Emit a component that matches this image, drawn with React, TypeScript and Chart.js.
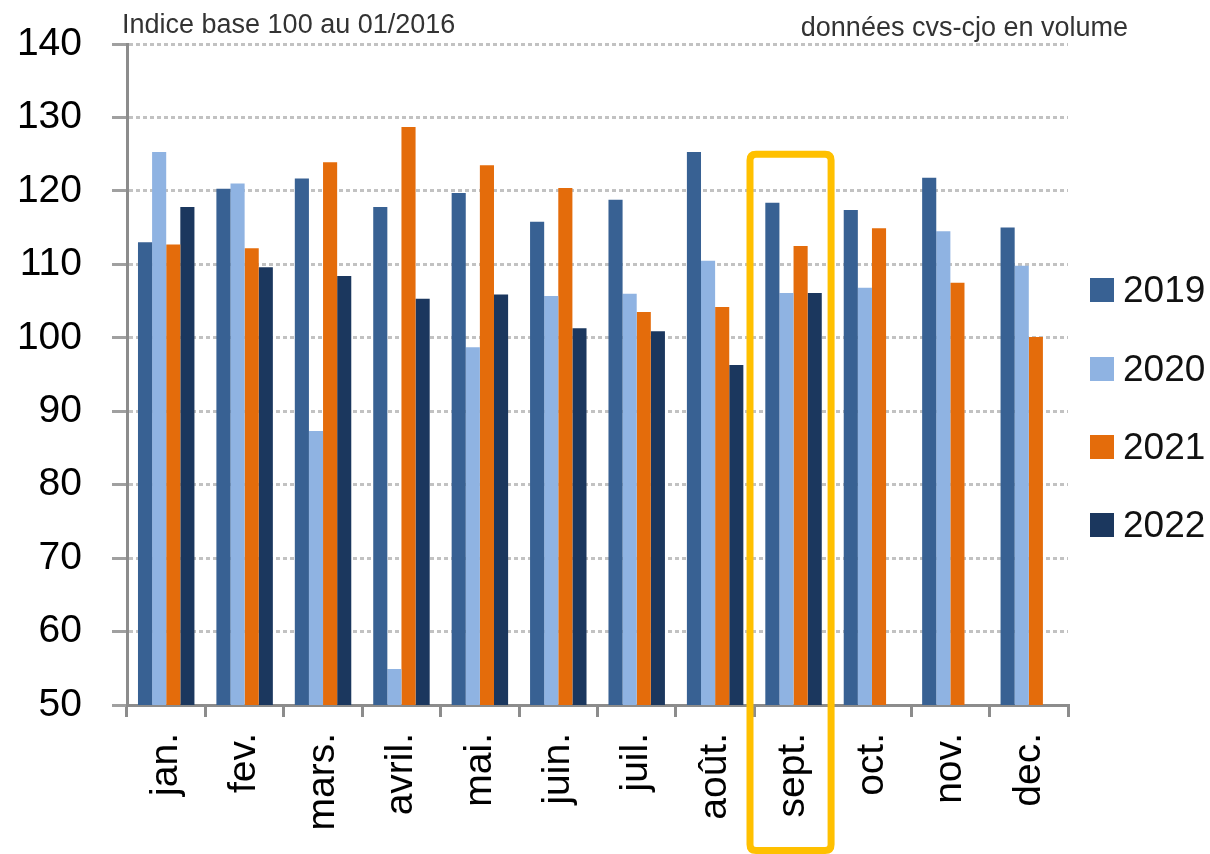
import React, { useEffect, useRef } from "react";
import { Chart, registerables } from "chart.js";

Chart.register(...registerables);

const months = ["jan.", "fev.", "mars.", "avril.", "mai.", "juin.", "juil.", "août.", "sept.", "oct.", "nov.", "dec."];
const years = ["2019", "2020", "2021", "2022"];
const values2019 = [113, 120.3, 121.7, 117.8, 119.7, 115.8, 118.8, 125.3, 118.4, 117.4, 121.8, 115];
const values2020 = [125.3, 121, 87.3, 54.9, 98.7, 105.7, 106, 110.5, 106.1, 106.8, 114.5, 109.8];
const values2021 = [112.7, 112.2, 123.9, 128.7, 123.5, 120.4, 103.5, 104.2, 112.5, 114.9, 107.5, 100.1];
const values2022 = [117.8, 109.6, 108.4, 105.3, 105.9, 101.3, 100.9, 96.3, 106.1, null, null, null];
const colors = ["#386193", "#8fb3e2", "#e46c0b", "#1b375e"];
const yMin = 50;
const yMax = 140;
const yStep = 10;
const titleLeft = "Indice base 100 au 01/2016";
const titleRight = "données cvs-cjo en volume";
const highlightIndex = 8;
const highlightTop = 125;

const FONT = "'Liberation Sans', Arial, sans-serif";

const overlayPlugin = {
  id: "overlay",
  afterDraw(chart: any) {
    const ctx = chart.ctx;
    const area = chart.chartArea;
    const xs = chart.scales.x;
    const ys = chart.scales.y;
    ctx.save();
    // titles
    ctx.fillStyle = "#333";
    ctx.font = `27px ${FONT}`;
    ctx.textBaseline = "alphabetic";
    ctx.textAlign = "left";
    ctx.fillText(titleLeft, 122, 33);
    ctx.textAlign = "right";
    ctx.fillText(titleRight, 1128, 36);

    // legend
    const legendX = area.right + 22;
    const rowYs = [290, 369, 447, 525];
    ctx.font = `37px ${FONT}`;
    ctx.textAlign = "left";
    ctx.textBaseline = "middle";
    chart.data.datasets.forEach((ds: any, i: number) => {
      const cy = rowYs[i];
      ctx.fillStyle = ds.backgroundColor;
      ctx.fillRect(legendX, cy - 12, 24, 24);
      ctx.fillStyle = "#111";
      ctx.fillText(ds.label, legendX + 33, cy + 2);
    });

    // highlight box
    const catW = (area.right - area.left) / chart.data.labels.length;
    const cx = xs.getPixelForValue(highlightIndex) - 3;
    const half = catW * 0.517;
    const top = ys.getPixelForValue(highlightTop);
    const bottom = chart.height - 3.5;
    const r = 6;
    ctx.strokeStyle = "#ffc000";
    ctx.lineWidth = 7;
    ctx.beginPath();
    const l = cx - half, rt = cx + half;
    ctx.moveTo(l + r, top);
    ctx.lineTo(rt - r, top);
    ctx.quadraticCurveTo(rt, top, rt, top + r);
    ctx.lineTo(rt, bottom - r);
    ctx.quadraticCurveTo(rt, bottom, rt - r, bottom);
    ctx.lineTo(l + r, bottom);
    ctx.quadraticCurveTo(l, bottom, l, bottom - r);
    ctx.lineTo(l, top + r);
    ctx.quadraticCurveTo(l, top, l + r, top);
    ctx.closePath();
    ctx.stroke();
    ctx.restore();
  },
};

export default function App() {
  const ref = useRef<HTMLCanvasElement | null>(null);
  useEffect(() => {
    if (!ref.current) return;
    const series = [values2019, values2020, values2021, values2022];
    const chart = new Chart(ref.current, {
      type: "bar",
      data: {
        labels: months,
        datasets: years.map((y, i) => ({
          label: y,
          data: series[i],
          backgroundColor: colors[i],
          borderWidth: 0,
          categoryPercentage: 0.72,
          barPercentage: 1.0,
        })),
      },
      options: {
        responsive: false,
        animation: false,
        layout: { padding: { top: 44, right: 142, left: 0, bottom: 0 } },
        plugins: {
          legend: { display: false },
          tooltip: { enabled: false },
        },
        scales: {
          x: {
            afterFit: (s: any) => {
              s.height = 149;
            },
            grid: {
              display: true,
              drawOnChartArea: false,
              offset: true,
              tickLength: 12,
              color: "#8c8c8c",
              lineWidth: 3,
            },
            border: { display: true, color: "#8c8c8c", width: 3 },
            ticks: {
              minRotation: 90,
              maxRotation: 90,
              padding: 16,
              color: "#000",
              font: { family: FONT, size: 39 },
            },
          },
          y: {
            min: yMin,
            max: yMax,
            afterFit: (s: any) => {
              s.width = 127;
              s.paddingTop = 20;
              s.paddingBottom = 20;
            },
            grid: {
              color: "#c2c2c2",
              lineWidth: 3,
              tickLength: 15,
              tickColor: "#a0a0a0",
              tickBorderDash: [],
            },
            border: { display: true, color: "#8c8c8c", width: 3, dash: [4, 3] },
            ticks: {
              stepSize: yStep,
              padding: 30,
              color: "#000",
              font: { family: FONT, size: 39 },
            },
          },
        },
      },
      plugins: [overlayPlugin],
    });
    return () => chart.destroy();
  }, []);
  return (
    <div style={{ position: "fixed", left: 0, top: 0, width: 1210, height: 854, background: "#fff" }}>
      <canvas ref={ref} width={1210} height={854} />
    </div>
  );
}
